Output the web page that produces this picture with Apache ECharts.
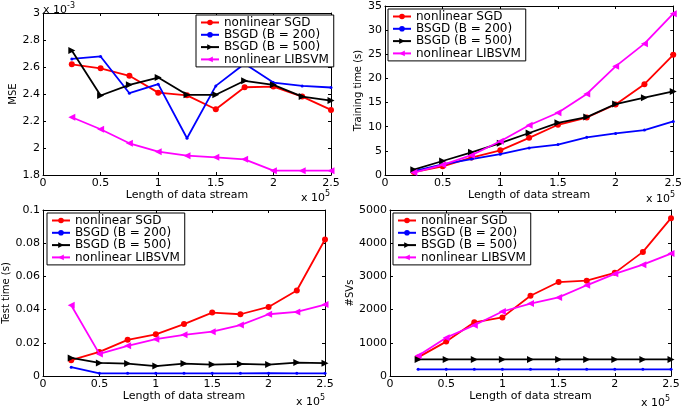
<!DOCTYPE html>
<html>
<head>
<meta charset="utf-8">
<script src="https://cdn.jsdelivr.net/npm/echarts@6/dist/echarts.min.js"></script>
<style>html,body{margin:0;padding:0;background:#fff}#c{width:685px;height:406px}</style>
</head>
<body>
<div id="c"></div>
<script>
const xVals = [0.25, 0.5, 0.75, 1.0, 1.25, 1.5, 1.75, 2.0, 2.25, 2.5];
const seriesNames = ['nonlinear SGD', 'BSGD (B = 200)', 'BSGD (B = 500)', 'nonlinear LIBSVM'];

// MSE (x 10^-3)
const mseSGD     = [2.62, 2.59, 2.535, 2.41, 2.39, 2.287, 2.45, 2.455, 2.381, 2.282];
const mseB200    = [2.66, 2.678, 2.406, 2.473, 2.072, 2.46, 2.624, 2.485, 2.46, 2.448];
const mseB500    = [2.723, 2.389, 2.468, 2.522, 2.394, 2.394, 2.498, 2.468, 2.381, 2.351];
const mseLIBSVM  = [2.228, 2.139, 2.035, 1.973, 1.943, 1.931, 1.916, 1.832, 1.832, 1.832];

// Training time (s)
const trainSGD    = [0.6, 1.8, 3.6, 5.1, 7.7, 10.4, 11.9, 14.6, 18.8, 24.9];
const trainB200   = [0.8, 2.2, 3.3, 4.3, 5.6, 6.3, 7.8, 8.6, 9.3, 11.1];
const trainB500   = [1.1, 2.9, 4.7, 6.6, 8.7, 10.8, 12.0, 14.7, 16.0, 17.3];
const trainLIBSVM = [0.5, 2.1, 4.1, 7.0, 10.3, 12.9, 16.8, 22.5, 27.2, 33.4];

// Test time (s)
const testSGD    = [0.0095, 0.0145, 0.0218, 0.0251, 0.0313, 0.0382, 0.0372, 0.0416, 0.0515, 0.0822];
const testB200   = [0.0053, 0.0016, 0.0016, 0.0016, 0.0016, 0.0016, 0.0016, 0.0017, 0.0016, 0.0016];
const testB500   = [0.0109, 0.0079, 0.0075, 0.0060, 0.0075, 0.0069, 0.0073, 0.0069, 0.0081, 0.0077];
const testLIBSVM = [0.0426, 0.0133, 0.0182, 0.0222, 0.0248, 0.0267, 0.0307, 0.0372, 0.0386, 0.0430];

// #SVs
const svSGD    = [560, 1036, 1617, 1765, 2416, 2830, 2870, 3107, 3738, 4754];
const svB200   = [200, 200, 200, 200, 200, 200, 200, 200, 200, 200];
const svB500   = [500, 500, 500, 500, 500, 500, 500, 500, 500, 500];
const svLIBSVM = [611, 1154, 1529, 1943, 2180, 2367, 2732, 3077, 3353, 3688];

const xTickLabels = ['0', '0.5', '1', '1.5', '2', '2.5'];

const FONT = 'DejaVu Sans, Verdana, sans-serif';
const colors = ['#ff0000', '#0000ff', '#000000', '#ff00ff'];
const symbols = ['circle', 'circle', 'triangle', 'triangle'];
const symSizes = [6, 3, 7, 7];
const symRot = [0, 0, -90, 90];

const panels = [
  {grid:{left:43, top:13, width:288, height:162}, data:[mseSGD, mseB200, mseB500, mseLIBSVM],
   yMin:1.8, yMax:3, yInt:0.2, yName:'MSE', yGap:24, fmt:v=>String(+v.toFixed(2)),
   legend:{left:196, top:15}},
  {grid:{left:385, top:6, width:290, height:169}, data:[trainSGD, trainB200, trainB500, trainLIBSVM],
   yMin:0, yMax:35, yInt:5, yName:'Training time (s)', yGap:22, fmt:v=>String(v),
   legend:{left:388, top:9}},
  {grid:{left:43, top:210, width:282, height:166}, data:[testSGD, testB200, testB500, testLIBSVM],
   yMin:0, yMax:0.1, yInt:0.02, yName:'Test time (s)', yGap:31, fmt:v=>String(+v.toFixed(2)),
   legend:{left:47, top:213}},
  {grid:{left:390, top:210, width:281, height:166}, data:[svSGD, svB200, svB500, svLIBSVM],
   yMin:0, yMax:5000, yInt:1000, yName:'#SVs', yGap:25, fmt:v=>String(v),
   legend:{left:393, top:213}}
];

const grids = [], xAxes = [], yAxes = [], series = [], legends = [];
const axisLine = {show:true, onZero:false, lineStyle:{color:'#000', width:1}};
const tick = {show:true, inside:true, length:3, lineStyle:{color:'#000'}};
const lbl = {color:'#000', fontSize:11, fontFamily:FONT};

panels.forEach((p, i) => {
  grids.push(Object.assign({containLabel:false}, p.grid));
  const xi = xAxes.length;
  xAxes.push({type:'value', gridIndex:i, position:'bottom', min:0, max:2.5, interval:0.5,
    axisLine, axisTick:tick, splitLine:{show:false},
    axisLabel:Object.assign({margin:3, formatter:v=>xTickLabels[Math.round(v/0.5)]}, lbl),
    name:'Length of data stream', nameLocation:'middle', nameGap:12,
    nameTextStyle:{color:'#000', fontSize:11, fontFamily:FONT}});
  xAxes.push({type:'value', gridIndex:i, position:'top', min:0, max:2.5, interval:0.5,
    axisLine, axisTick:tick, splitLine:{show:false}, axisLabel:{show:false}});
  const yi = yAxes.length;
  yAxes.push({type:'value', gridIndex:i, position:'left', min:p.yMin, max:p.yMax, interval:p.yInt,
    axisLine, axisTick:tick, splitLine:{show:false},
    axisLabel:Object.assign({margin:3, formatter:p.fmt}, lbl),
    name:p.yName, nameLocation:'middle', nameGap:p.yGap, nameRotate:90,
    nameTextStyle:{color:'#000', fontSize:10, fontFamily:FONT}});
  yAxes.push({type:'value', gridIndex:i, position:'right', min:p.yMin, max:p.yMax, interval:p.yInt,
    axisLine, axisTick:tick, splitLine:{show:false}, axisLabel:{show:false}});
  p.data.forEach((arr, k) => {
    series.push({type:'line', name:seriesNames[k], xAxisIndex:xi, yAxisIndex:yi,
      data:arr.map((v, j) => [xVals[j], v]),
      color:colors[k], symbol:symbols[k], symbolSize:symSizes[k], symbolRotate:symRot[k],
      showSymbol:true, lineStyle:{width:1.8, color:colors[k]},
      itemStyle:{color:colors[k]}, animation:false, z:2+k});
  });
  legends.push({left:p.legend.left, top:p.legend.top, orient:'vertical',
    data:seriesNames, padding:[1.5,5,1.5,4], itemGap:0.3, itemWidth:18, itemHeight:7,
    borderColor:'#000', borderWidth:1, backgroundColor:'#fff', borderRadius:0,
    textStyle:{color:'#000', fontSize:12, lineHeight:11, fontFamily:FONT}, selectedMode:false});
});

const sup = (left, top, exp) => ({left, top, padding:0, text:'{a|x 10}{b|' + exp + '}',
  textStyle:{fontWeight:'normal', rich:{
    a:{fontSize:11, fontFamily:FONT, fontWeight:'normal', color:'#000', verticalAlign:'bottom'},
    b:{fontSize:8, fontFamily:FONT, fontWeight:'normal', color:'#000', verticalAlign:'top', padding:[0,0,6,0]}}}});

const titles = [
  sup(43, 2, '-3'),
  sup(301, 190, '5'),
  sup(646, 191, '5'),
  sup(296, 394, '5'),
  sup(641, 395, '5')
];

const chart = echarts.init(document.getElementById('c'), null, {renderer:'canvas'});
chart.setOption({backgroundColor:'#fff', animation:false, title:titles, grid:grids,
  xAxis:xAxes, yAxis:yAxes, series, legend:legends});
</script>
</body>
</html>
